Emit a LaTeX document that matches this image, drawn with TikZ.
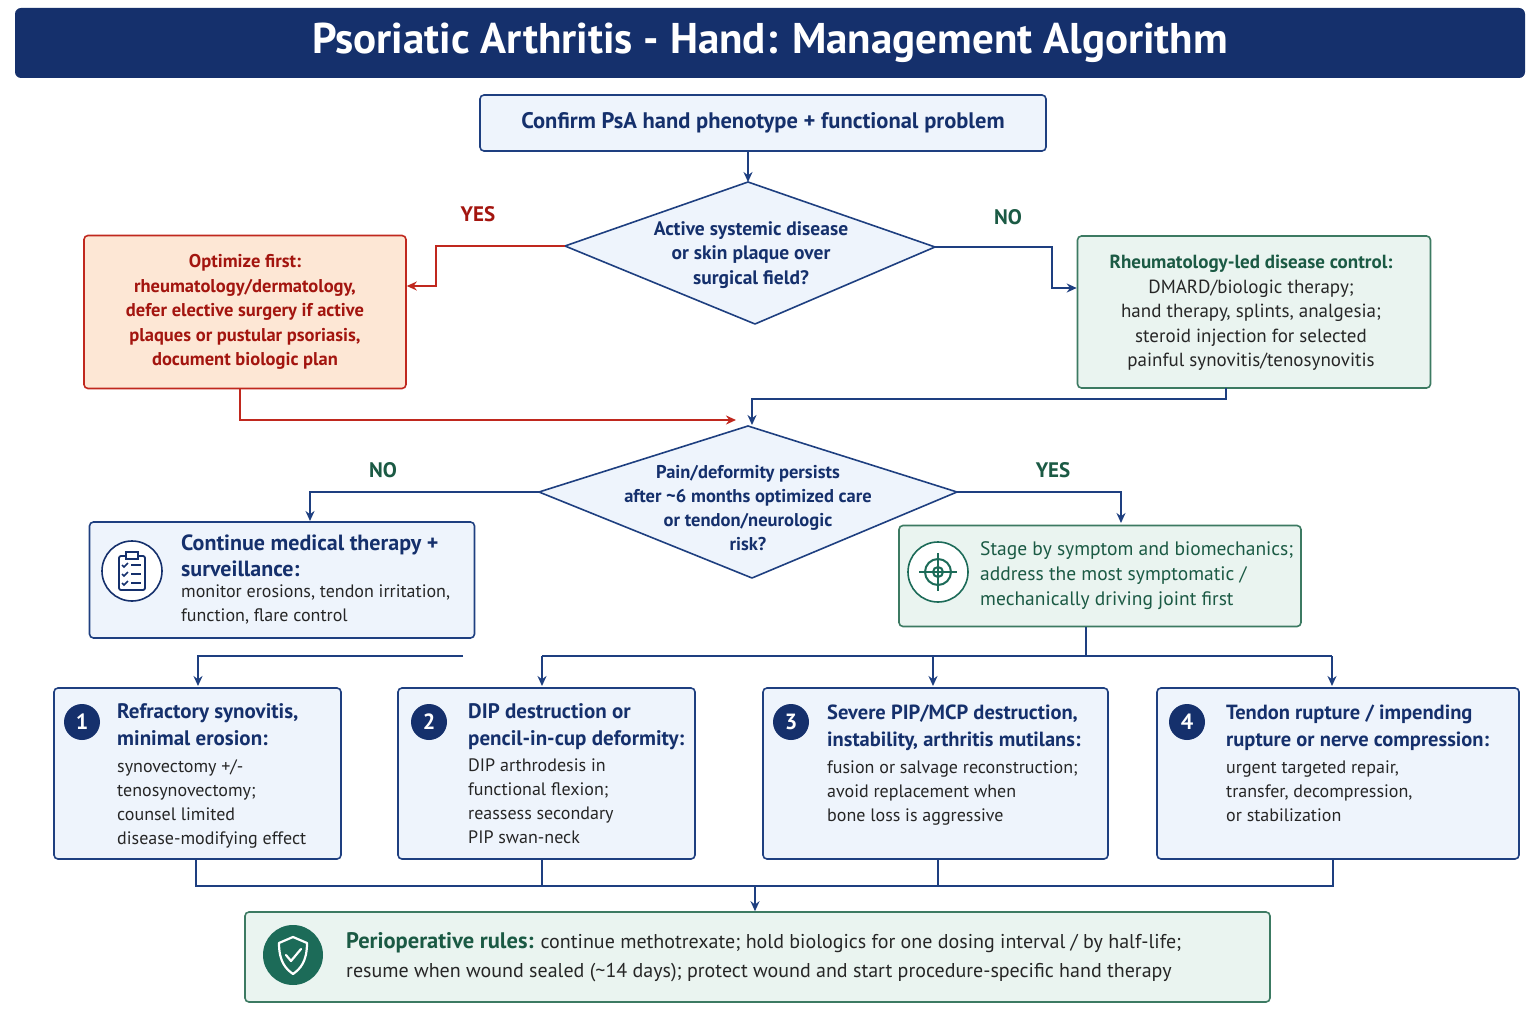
\documentclass[tikz,border=0pt]{standalone}
\usepackage{fontspec}
\setmainfont{PT Sans}
\usetikzlibrary{shapes.geometric,arrows.meta}
\definecolor{navy}{HTML}{15306C}
\definecolor{bnavy}{HTML}{1E3F80}
\definecolor{lblue}{HTML}{EEF4FC}
\definecolor{gr}{HTML}{3C7A62}
\definecolor{grt}{HTML}{1B5A44}
\definecolor{lgr}{HTML}{EAF4F0}
\definecolor{rd}{HTML}{C0281E}
\definecolor{rdt}{HTML}{A3150F}
\definecolor{lor}{HTML}{FDE7D5}
\definecolor{teal}{HTML}{1C6B58}
\tikzset{
 box/.style={draw=bnavy,fill=lblue,line width=1.6pt,rounded corners=4pt},
 gbox/.style={draw=gr,fill=lgr,line width=1.6pt,rounded corners=4pt},
 obox/.style={draw=rd,fill=lor,line width=1.6pt,rounded corners=4pt},
 dia/.style={draw=bnavy,fill=lblue,line width=1.6pt,line join=round},
 con/.style={draw=bnavy,line width=2pt,-{Stealth[length=10pt,width=9pt]}},
 line/.style={draw=bnavy,line width=2pt},
 txt/.style={font=\fontsize{18}{24}\selectfont,text=black!85,align=left,anchor=north west,inner sep=0pt},
 hd/.style={font=\bfseries\fontsize{21}{27}\selectfont,text=navy,align=left,anchor=north west,inner sep=0pt},
 num/.style={circle,fill=navy,text=white,font=\bfseries\fontsize{22}{22}\selectfont,minimum size=36pt,inner sep=0pt},
 lab/.style={font=\bfseries\fontsize{21}{21}\selectfont}
}
\begin{document}
\begin{tikzpicture}[x=1pt,y=-1pt]
\useasboundingbox (0,0) rectangle (1536,1024);
\fill[white] (0,0) rectangle (1536,1024);
% title
\node[fill=navy,rounded corners=6pt,minimum width=1510pt,minimum height=70pt,text=white,font=\bfseries\fontsize{43}{46}\selectfont] (title) at (770,43) {Psoriatic Arthritis - Hand: Management Algorithm};
% top
\node[box,minimum width=566pt,minimum height=56pt,font=\bfseries\fontsize{22.5}{26}\selectfont,text=navy] (top) at (763,123) {Confirm PsA hand phenotype + functional problem};
% diamond 1
\coordinate (d1w) at (565,246); \coordinate (d1e) at (935,247);
\coordinate (d1n) at (748,182); \coordinate (d1s) at (755,324);
\draw[dia] (d1n) -- (d1e) -- (d1s) -- (d1w) -- cycle;
\node[font=\bfseries\fontsize{19.5}{24.5}\selectfont,text=navy,align=center] (d1) at (751,255) {Active systemic disease\\or skin plaque over\\surgical field?};
\draw[con] (top.south-|d1n) -- (d1n);
% left orange
\node[obox,minimum width=322pt,minimum height=153pt,font=\bfseries\fontsize{18.5}{24.5}\selectfont,text=rdt,align=center] (opt) at (245,312) {Optimize first:\\rheumatology/dermatology,\\defer elective surgery if active\\plaques or pustular psoriasis,\\document biologic plan};
\node[gbox,minimum width=353pt,minimum height=152pt] (rheu) at (1254,312) {};
\node[font=\fontsize{19}{24.5}\selectfont,align=center,text=black!85] (rheut) at (1251,313) {\textcolor{grt}{\bfseries Rheumatology-led disease control:}\\DMARD/biologic therapy;\\hand therapy, splints, analgesia;\\steroid injection for selected\\painful synovitis/tenosynovitis};
\node[lab,text=rdt] (yes1) at (478,214) {YES};
\node[lab,text=grt] (no1) at (1008,217) {NO};
\draw[con,draw=rd] (d1w) -- (436,246) -- (436,286) -- (opt.east|-0,286);
\draw[con] (d1e) -- (1052,247) -- (1052,288) -- (rheu.west|-0,288);
% diamond 2
\coordinate (d2w) at (539,492); \coordinate (d2e) at (957,492);
\coordinate (d2n) at (748,426); \coordinate (d2s) at (752,578);
\draw[dia] (d2n) -- (d2e) -- (d2s) -- (d2w) -- cycle;
\node[font=\bfseries\fontsize{18.5}{24}\selectfont,text=navy,align=center] (d2) at (748,508) {Pain/deformity persists\\after \textasciitilde6 months optimized care\\or tendon/neurologic\\risk?};
\draw[con,draw=rd] (240,389) -- (240,420) -- (736,420);
\draw[con] (1226,388) -- (1226,399) -- (752,399) -- (752,425);
\node[lab,text=grt] (no2) at (383,470) {NO};
\node[lab,text=grt] (yes2) at (1053,470) {YES};
% continue box
\node[box,minimum width=385pt,minimum height=116pt] (cont) at (282,580) {};
\draw[con] (d2w) -- (310,492) -- (310,521);
\node[circle,draw=navy,line width=1.6pt,minimum size=60pt,fill=white] (ic1) at (132,571) {};
\draw[navy,line width=1.8pt,rounded corners=2pt] (119,556) rectangle (145,590);
\draw[navy,line width=1.8pt,fill=white] (126,552) rectangle (138,559);
\foreach \yy in {565,574,583}{\draw[navy,line width=1.5pt] (122,\yy) -- (124,\yy+2) -- (128,\yy-2); \draw[navy,line width=1.5pt] (131,\yy) -- (141,\yy);}
\node[hd,font=\bfseries\fontsize{22}{26}\selectfont] (contH) at (181,535) {Continue medical therapy +\\surveillance:};
\node[txt] (contT) at (181,585) {monitor erosions, tendon irritation,\\function, flare control};
% stage box
\node[gbox,minimum width=402pt,minimum height=101pt] (stage) at (1100,576) {};
\draw[con] (d2e) -- (1121,492) -- (1121,523);
\node[circle,draw=teal,line width=1.6pt,minimum size=60pt,fill=white] (ic2) at (938,572) {};
\draw[teal,line width=2pt] (938,572) circle (13pt) (938,572) circle (5pt);
\draw[teal,line width=2pt] (938,553) -- (938,591) (919,572) -- (957,572);
\node[txt,text=grt,font=\fontsize{19.5}{25}\selectfont] (stageT) at (980,541) {Stage by symptom and biomechanics;\\address the most symptomatic /\\mechanically driving joint first};
% distribution lines
\coordinate (free) at (463,656);
\draw[con] (free) -- (198,656) -- (198,686);
\draw[line] (stage.south-|1086,0) -- (1086,656);
\draw[line] (542,656) -- (1332,656);
\draw[con] (542,656) -- (542,686);
\draw[con] (933,656) -- (933,686);
\draw[con] (1332,656) -- (1332,686);
% four boxes
\node[box,minimum width=287pt,minimum height=171pt] (b1) at (197.5,773.5) {};
\node[box,minimum width=297pt,minimum height=171pt] (b2) at (546.5,773.5) {};
\node[box,minimum width=345pt,minimum height=171pt] (b3) at (935.5,773.5) {};
\node[box,minimum width=362pt,minimum height=171pt] (b4) at (1338,773.5) {};
\node[num] (n1) at (82,722) {1};
\node[num] (n2) at (429,722) {2};
\node[num] (n3) at (791,722) {3};
\node[num] (n4) at (1187,722) {4};
\node[hd] (h1) at (117,703) {Refractory synovitis,\\minimal erosion:};
\node[txt] (t1) at (117,759) {synovectomy +/-\\tenosynovectomy;\\counsel limited\\disease-modifying effect};
\node[hd] (h2) at (468,703) {DIP destruction or\\pencil-in-cup deformity:};
\node[txt] (t2) at (468,759) {DIP arthrodesis in\\functional flexion;\\reassess secondary\\PIP swan-neck};
\node[hd,font=\bfseries\fontsize{20.5}{27}\selectfont] (h3) at (827,705) {Severe PIP/MCP destruction,\\instability, arthritis mutilans:};
\node[txt] (t3) at (827,761) {fusion or salvage reconstruction;\\avoid replacement when\\bone loss is aggressive};
\node[hd,font=\bfseries\fontsize{20.5}{27}\selectfont] (h4) at (1226,705) {Tendon rupture / impending\\rupture or nerve compression:};
\node[txt] (t4) at (1226,761) {urgent targeted repair,\\transfer, decompression,\\or stabilization};
% bottom
\draw[line] (196,859) -- (196,886) -- (1333,886) -- (1333,859);
\draw[line] (542,859) -- (542,886);
\draw[line] (938,859) -- (938,886);
\node[gbox,minimum width=1025pt,minimum height=90pt] (peri) at (757.5,957) {};
\draw[con] (755,886) -- (peri.north-|755,0);
\node[circle,fill=teal,minimum size=60pt] (ic3) at (293,955) {};
\draw[white,line width=2.2pt,line join=round] (293,937) -- (307,943) .. controls (307,962) and (300,969) .. (293,974) .. controls (286,969) and (279,962) .. (279,943) -- cycle;
\draw[white,line width=2.2pt,line cap=round,line join=round] (286,955) -- (291,961) -- (301,949);
\node[txt,font=\fontsize{20}{29}\selectfont] (periT) at (346,932) {\textcolor{grt}{\bfseries\fontsize{22.5}{29}\selectfont Perioperative rules:} continue methotrexate; hold biologics for one dosing interval / by half-life;\\resume when wound sealed (\textasciitilde14 days); protect wound and start procedure-specific hand therapy};
\end{tikzpicture}
\end{document}
